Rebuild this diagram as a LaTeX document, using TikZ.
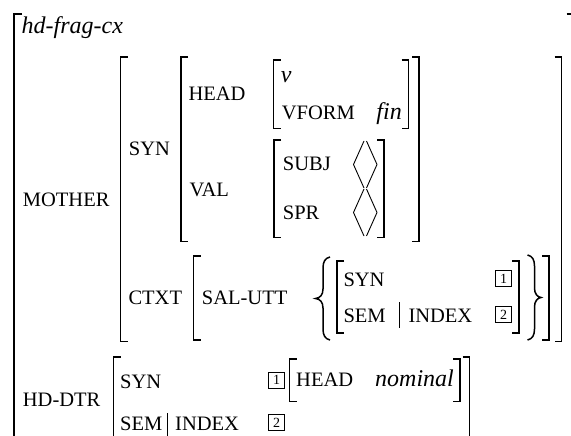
\documentclass[tikz,border=0pt]{standalone}
\usepackage{fontspec}
\setmainfont{Liberation Serif}
\newfontfamily\avmrm{Liberation Serif}
\newcommand{\avmsc}{\avmrm\fontsize{20.5}{24}\selectfont}
\newcommand{\avmit}{\avmrm\fontsize{24}{28}\selectfont\itshape}
\newcommand{\avmbrk}[4]{%
  \draw[brk] ({#1+7},#3) -- (#1,#3) -- (#1,#4) -- ({#1+7},#4);
  \draw[brk] ({#2-7},#3) -- (#2,#3) -- (#2,#4) -- ({#2-7},#4);}
\newcommand{\avmangle}[3]{%
  \draw[thinl] ({#1+10.5},#2) -- (#1,{(#2+#3)/2}) -- ({#1+10.5},#3);
  \draw[thinl] ({#1+13},#2) -- ({#1+23.5},{(#2+#3)/2}) -- ({#1+13},#3);}
\tikzset{
  ft/.style={anchor=base west, inner sep=0pt, font=\avmsc},
  vt/.style={anchor=base west, inner sep=0pt, font=\avmit},
  tagbox/.style={draw, line width=0.7pt, minimum size=16pt, inner sep=0pt, font=\avmrm\fontsize{14}{14}\selectfont},
  brk/.style={line width=1.5pt},
  thinl/.style={line width=0.9pt},
  bracel/.style={line width=1.5pt}
}
\begin{document}
\begin{tikzpicture}[x=1pt,y=-1pt]
\useasboundingbox (0,0) rectangle (571,436);
% outer bracket
\draw[brk] (22,14) -- (14,14) -- (14,450);
\draw[brk] (566.5,14) -- (573.5,14) -- (573.5,450);
\node[vt] (type) at (21.5,34) {hd-frag-cx};
% MOTHER
\node[ft] (mother) at (22.7,206.7) {MOTHER};
\avmbrk{120.5}{561.5}{57}{341.5}
\node[ft] (syn) at (128.7,155) {SYN};
\avmbrk{181}{419}{57}{241.5}
\node[ft] (head) at (188.3,100.7) {HEAD};
\avmbrk{273.5}{408.5}{60}{128.5}
\node[vt] (v) at (280.7,83) {v};
\node[ft] (vform) at (281.7,119.3) {VFORM};
\node[vt,anchor=base east] (fin) at (402,119.3) {fin};
\node[ft] (val) at (189.3,196) {VAL};
\avmbrk{274}{384}{140}{237.5}
\node[ft] (subj) at (282.7,170) {SUBJ};
\node[ft] (spr) at (282.7,219.5) {SPR};
\avmangle{353.5}{141}{188}
\avmangle{353.5}{189}{236}
% CTXT
\node[ft] (ctxt) at (128.3,304) {CTXT};
\avmbrk{193.5}{549}{256}{340}
\node[ft] (salutt) at (201.7,304) {SAL-UTT};
\draw[bracel] (330,257) .. controls (325,258) and (323,262) .. (323,268) -- (323,289)
  .. controls (323,295) and (320,298) .. (315.5,298.5)
  .. controls (320,299) and (323,302) .. (323,308) -- (323,329)
  .. controls (323,335) and (325,339) .. (330,340);
\draw[bracel] (527.5,255) .. controls (532.5,256) and (534.5,260) .. (534.5,266) -- (534.5,288)
  .. controls (534.5,294) and (537.5,297) .. (541,297.5)
  .. controls (537.5,298) and (534.5,301) .. (534.5,307) -- (534.5,329)
  .. controls (534.5,335) and (532.5,339) .. (527.5,340);
\avmbrk{337}{519}{261}{333}
\node[ft] (isyn) at (343.3,286.5) {SYN};
\node[tagbox] (t1a) at (503.5,278.5) {1};
\node[ft] (isem) at (343.3,322) {SEM};
\draw[thinl] (399,302) -- (399,328);
\node[ft] (iindex) at (408.3,322) {INDEX};
\node[tagbox] (t2a) at (503.5,314.5) {2};
% HD-DTR
\node[ft] (hddtr) at (22.7,406) {HD-DTR};
\avmbrk{113.5}{469.5}{357}{442}
\node[ft] (hsyn) at (120,388.3) {SYN};
\node[tagbox] (t1b) at (276.5,380) {1};
\avmbrk{289.5}{460}{359}{401.5}
\node[ft] (hhead) at (296,386.7) {HEAD};
\node[vt] (nominal) at (375,386.7) {nominal};
\node[ft] (hsem) at (120,430) {SEM};
\draw[thinl] (167,413) -- (167,437);
\node[ft] (hindex) at (175,430) {INDEX};
\node[tagbox] (t2b) at (276.5,422.5) {2};
\end{tikzpicture}
\end{document}
